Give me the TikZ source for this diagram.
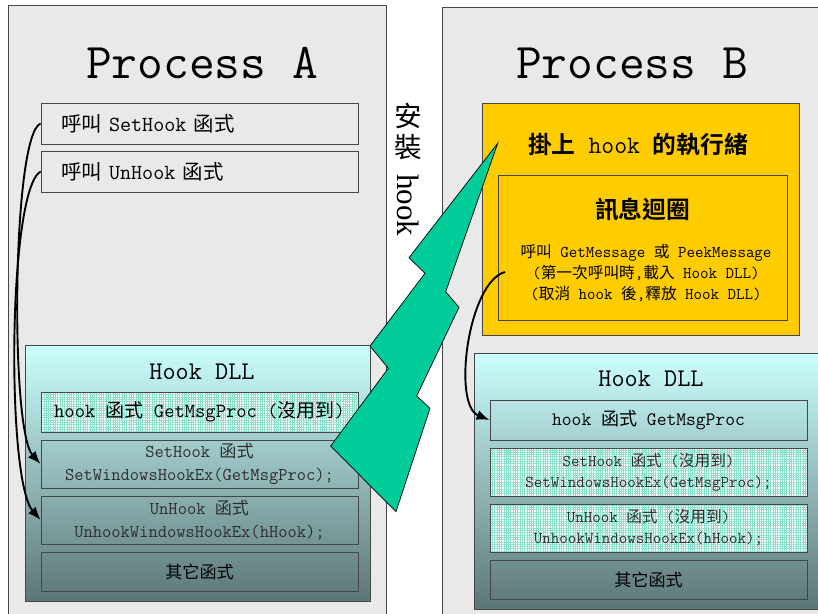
\documentclass[tikz,border=0pt]{standalone}
\usepackage{fontspec}
\renewcommand{\familydefault}{\ttdefault}
\newfontfamily\cjk{Noto Sans CJK TC}[Scale=0.95,BoldFont={Noto Sans CJK TC Bold}]
\newfontfamily\serifhook{Liberation Serif}
\usetikzlibrary{arrows.meta,patterns.meta,positioning}

\definecolor{panelgray}{RGB}{233,233,233}
\definecolor{edgegray}{RGB}{70,70,70}
\definecolor{dlltop}{RGB}{204,255,255}
\definecolor{dllbot}{RGB}{92,118,118}
\definecolor{threadyellow}{RGB}{255,204,0}
\definecolor{boltgreen}{RGB}{0,204,153}
\definecolor{gridteal}{RGB}{140,222,205}
\definecolor{dimtext}{RGB}{45,45,45}

\newcommand{\zh}[1]{{\cjk #1}}
\newcommand{\sz}[2]{\fontsize{#1}{#2}\selectfont}

\begin{document}
\begin{tikzpicture}[
    x=1pt, y=-1pt,
    panel/.style={rectangle, draw=edgegray, fill=panelgray, line width=0.8pt, inner sep=0pt},
    title/.style={font=\sz{50}{54}},
    box/.style={rectangle, draw=edgegray, line width=0.9pt, minimum width=317pt, inner sep=0pt, align=center},
    callbox/.style={box, minimum height=41pt, inner xsep=20pt, text width=277pt, align=left, font=\sz{21.5}{24}},
    hatched/.style={box, preaction={fill=white}, pattern={Hatch[distance=2.3pt, angle=0, line width=0.4pt]}, pattern color=gridteal},
    dll/.style={rectangle, draw=edgegray, line width=1pt, top color=dlltop, bottom color=dllbot, inner sep=0pt},
    dlltitle/.style={font=\sz{25.5}{28}},
    line/.style={draw, -{Latex[length=13pt,width=10pt]}, line width=1.9pt}
]
    \useasboundingbox (0,0) rectangle (818,613);
    \clip (0,0) rectangle (818,613);

    % Process A
    \node [panel, minimum width=378pt, minimum height=635pt] (procA) at (197,322.5) {};
    \node [title] (titleA) at (202,63) {Process A};
    \node [callbox] (callSet) at (199.5,123.5) {\zh{呼叫} SetHook \zh{函式}};
    \node [callbox] (callUn) at (199.5,171.5) {\zh{呼叫} UnHook \zh{函式}};

    \node [dll, minimum width=345pt, minimum height=256pt] (dllA) at (197.5,473) {};
    \node [dlltitle] (dllTitleA) at (202,372) {Hook DLL};
    \node [hatched, minimum height=40pt, font=\sz{20}{22}] (hookA) at (199.5,412) {hook \zh{函式} GetMsgProc (\zh{沒用到})};
    \node [box, minimum height=48pt, font=\sz{18}{23}, text=dimtext] (setA) at (199.5,464) {SetHook \zh{函式}\\SetWindowsHookEx(GetMsgProc);};
    \node [box, minimum height=48pt, font=\sz{18}{23}, text=dimtext] (unA) at (199.5,520) {UnHook \zh{函式}\\UnhookWindowsHookEx(hHook);};
    \node [box, minimum height=39pt, font=\sz{18}{20}] (otherA) at (199.5,571.5) {\zh{其它函式}};

    % Process B
    \node [panel, minimum width=388pt, minimum height=633pt] (procB) at (636,323.5) {};
    \node [title] (titleB) at (632,63) {Process B};
    \node [rectangle, draw=edgegray, line width=0.9pt, fill=threadyellow, minimum width=317pt, minimum height=232pt] (thread) at (640.5,219) {};
    \node [font=\sz{25}{28}] (threadTitle) at (638,145) {\zh{\bfseries 掛上} hook \zh{\bfseries 的執行緒}};
    \node [rectangle, draw=edgegray, line width=0.9pt, minimum width=289pt, minimum height=145pt] (loop) at (642.5,247.5) {};
    \node [font=\sz{25}{28}] (loopTitle) at (642.5,210) {\zh{\bfseries 訊息迴圈}};
    \node [align=center, font=\sz{16.5}{21}] (loopText) at (646,273)
        {\zh{呼叫} GetMessage \zh{或} PeekMessage\\(\zh{第一次呼叫時},\zh{載入} Hook DLL)\\(\zh{取消} hook \zh{後},\zh{釋放} Hook DLL)};
    \coordinate (loopStart) at (505,272);

    \node [dll, minimum width=356pt, minimum height=256pt] (dllB) at (652,481) {};
    \node [dlltitle] (dllTitleB) at (651,379) {Hook DLL};
    \node [box, minimum height=40pt, font=\sz{19}{22}] (hookB) at (648.5,420) {hook \zh{函式} GetMsgProc};
    \node [hatched, minimum height=48pt, font=\sz{16.5}{21}, text=dimtext] (setB) at (648.5,472) {SetHook \zh{函式} (\zh{沒用到})\\SetWindowsHookEx(GetMsgProc);};
    \node [hatched, minimum height=48pt, font=\sz{16.5}{21}, text=dimtext] (unB) at (648.5,528) {UnHook \zh{函式} (\zh{沒用到})\\UnhookWindowsHookEx(hHook);};
    \node [box, minimum height=39pt, font=\sz{18}{20}] (otherB) at (648.5,579.5) {\zh{其它函式}};

    % install label and bolt
    \node [rotate=-90, font=\sz{29}{30}] (install) at (408,170)
        {\rotatebox[origin=c]{90}{\zh{安}}\,\rotatebox[origin=c]{90}{\zh{裝}}\ {\serifhook\sz{31}{32}hook}};
    \draw [fill=boltgreen, line width=0.7pt] (497.7,143.3) -- (409,257.7) -- (425,273.3) -- (370,346)
        -- (388.3,368.3) -- (330.7,446) -- (396,511.7) -- (430,408.3) -- (416.7,396)
        -- (459,307.3) -- (445.7,291.7) -- cycle;

    % Paths
    \path [line] (callSet.west) .. controls (12,135) and (10,430) .. (setA.west);
    \path [line] (callUn.west) .. controls (8,190) and (6,480) .. (unA.west);
    \path [line] (loopStart) .. controls (468,282) and (452,405) .. (hookB.west);

\end{tikzpicture}
\end{document}
